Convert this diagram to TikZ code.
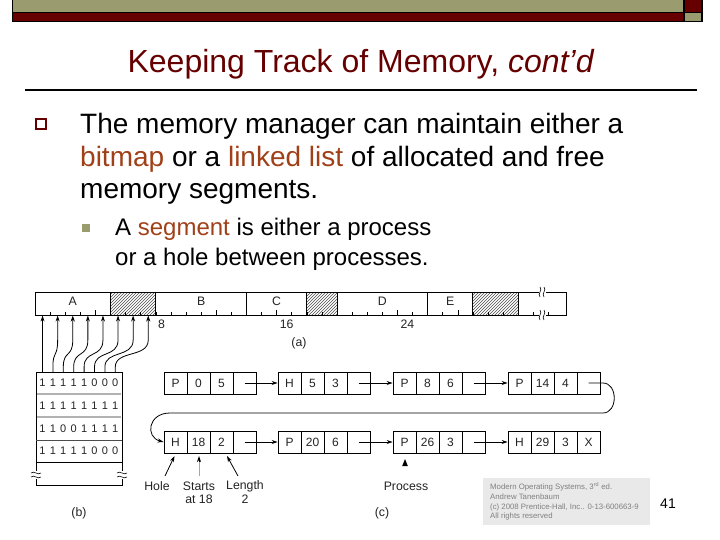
\documentclass[tikz,border=0pt]{standalone}
\usepackage{fontspec}
\setmainfont{Liberation Sans}
\usetikzlibrary{arrows.meta,patterns}
\definecolor{olivebar}{RGB}{155,155,112}
\definecolor{darkred}{RGB}{102,0,0}
\definecolor{hl}{RGB}{160,64,25}
\definecolor{figtext}{RGB}{35,35,35}
\newcommand\hlt[1]{\textcolor{hl}{#1}}
\tikzset{
  txt/.style={inner sep=0pt, anchor=base west},
  body/.style={txt, font=\fontsize{28}{32}\selectfont},
  sub/.style={txt, font=\fontsize{24}{28}\selectfont},
  figlbl/.style={inner sep=0pt, text=figtext, font=\fontsize{12.3}{13}\selectfont},
  bitdigit/.style={inner sep=0pt, text=figtext, font=\fontsize{11}{12}\selectfont},
  cell/.style={draw, line width=0.9pt, minimum width=23pt, minimum height=22pt, inner sep=0pt, text height=8.6pt, text depth=0pt, text=figtext, font=\fontsize{12}{12}\selectfont},
  arr/.style={line width=0.8pt, -{Stealth[length=6pt,width=4pt]}},
  wm/.style={txt, text=black!50, font=\fontsize{7.8}{8}\selectfont},
}
\begin{document}
\begin{tikzpicture}[x=1pt,y=-1pt]
\useasboundingbox (0,0) rectangle (720,540);
% header bars
\fill[black] (12,0) rectangle (703,22);
\fill[olivebar] (13,0) rectangle (683,12);
\fill[darkred] (13,13) rectangle (683,21);
\fill[darkred] (685,0) rectangle (701,12);
\fill[olivebar] (685,13) rectangle (701,21);
% title
\node[inner sep=0pt, anchor=base, text=darkred, font=\fontsize{32}{38}\selectfont] (title) at (361,73) {Keeping Track of Memory, \textit{cont’d}};
\draw[line width=1.5pt] (25,90) -- (697,90);
% bullets
\draw[darkred, line width=1.3pt] (36,119) rectangle (46,129);
\node[body] (l1) at (80,134) {The memory manager can maintain either a};
\node[body] (l2) at (80,166.5) {\hlt{bitmap} or a \hlt{linked list} of allocated and free};
\node[body] (l3) at (80,199) {memory segments.};
\fill[olivebar] (82,224) rectangle (90,232);
\node[sub] (s1) at (115,236) {A \hlt{segment} is either a process};
\node[sub] (s2) at (115,265) {or a hole between processes.};
% memory bar (a)
\foreach \a/\b in {5/8,18/20,29/32}
  \fill[pattern=north east lines, pattern color=black!70] ({35+\a*15.1},292) rectangle ({35+\b*15.1},315);
\draw[line width=1pt] (35,292) rectangle (566,315);
\foreach \u in {5,8,14,18,20,26,29,32}
  \draw[line width=0.9pt] ({35+\u*15.1},292) -- ({35+\u*15.1},315);
\foreach \u in {1,...,34}
  \draw[line width=0.5pt] ({35+\u*15.1},315) -- ({35+\u*15.1},312);
\foreach \u in {4,12,16,24,28}
  \draw[line width=0.5pt] ({35+\u*15.1},315) -- ({35+\u*15.1},310);
% break marks on bar
\foreach \yy in {292,315} {
  \fill[white] (539,{\yy-2}) rectangle (546,{\yy+2});
  \draw[line width=0.6pt] (540,{\yy-5}) .. controls (543,{\yy-2}) and (537,{\yy+2}) .. (540,{\yy+5});
  \draw[line width=0.6pt] (544,{\yy-5}) .. controls (547,{\yy-2}) and (541,{\yy+2}) .. (544,{\yy+5});
}
\node[figlbl] (lA) at ({35+2.5*15.1},301) {A};
\node[figlbl] (lB) at ({35+11*15.1},301) {B};
\node[figlbl] (lC) at ({35+16*15.1},301) {C};
\node[figlbl] (lD) at ({35+23*15.1},301) {D};
\node[figlbl] (lE) at ({35+27.5*15.1},301) {E};
\node[figlbl, anchor=west] (t8) at ({35+8*15.1+2},324) {8};
\node[figlbl, anchor=west] (t16) at ({35+16*15.1+3},324) {16};
\node[figlbl, anchor=west] (t24) at ({35+24*15.1+3},324) {24};
\node[figlbl] (capa) at (299,343) {(a)};
% bitmap (b)
\draw[line width=1pt] (36,372) rectangle (122,485);
\draw[gray!60, line width=1.5pt] (37,394) -- (121,394);
\draw[gray!60, line width=1.5pt] (37,417) -- (121,417);
\draw[black!70, line width=1pt] (36,440) -- (122,440);
\draw[line width=1pt] (36,462) -- (122,462);
\foreach \y/\bits [count=\r] in {383/{1,1,1,1,1,0,0,0}, 405.5/{1,1,1,1,1,1,1,1}, 428.5/{1,1,0,0,1,1,1,1}, 451/{1,1,1,1,1,0,0,0}} {
  \foreach \b [count=\i from 0] in \bits {
    \node[bitdigit] (bit-\r-\i) at ({42.5+\i*10.4},\y) {\b};
  }
}
\foreach \xx in {36,122} {
  \fill[white] ({\xx-2},471) rectangle ({\xx+2},479);
  \draw[line width=0.6pt] ({\xx-5},473) .. controls ({\xx-2},470) and ({\xx+2},476) .. ({\xx+5},473);
  \draw[line width=0.6pt] ({\xx-5},477) .. controls ({\xx-2},474) and ({\xx+2},480) .. ({\xx+5},477);
}
\node[figlbl] (capb) at (79,513) {(b)};
% arrows bitmap -> bar
\foreach \i in {0,...,7} {
  \coordinate (bs\i) at ({42.5+\i*10.4},372);
  \coordinate (be\i) at ({35+(\i+0.5)*15.1},315.5);
}
\draw[arr] (bs0) -- (be0);
\foreach \i in {1,...,7} {
  \draw[arr] (bs\i) -- ({42.5+\i*10.4},367) .. controls ({42.5+\i*10.4},350) and ({35+(\i+0.5)*15.1},358) .. ({35+(\i+0.5)*15.1},340) -- (be\i);
}
% linked list (c)
\foreach \nm/\x/\y/\a/\b/\c/\d in {a/164/383/P/0/5/{}, b/278/383/H/5/3/{}, c/393/383/P/8/6/{}, d/508/383/P/14/4/{}, e/164/442/H/18/2/{}, f/278/442/P/20/6/{}, g/393/442/P/26/3/{}, h/508/442/H/29/3/X} {
  \node[cell] (\nm1) at ({\x+11.5},\y) {\a};
  \node[cell] (\nm2) at ({\x+34.5},\y) {\b};
  \node[cell] (\nm3) at ({\x+57.5},\y) {\c};
  \node[cell] (\nm4) at ({\x+80.5},\y) {\d};
}
\draw[arr] (a4.center) -- (b1.west);
\draw[arr] (b4.center) -- (c1.west);
\draw[arr] (c4.center) -- (d1.west);
\draw[arr] (e4.center) -- (f1.west);
\draw[arr] (f4.center) -- (g1.west);
\draw[arr] (g4.center) -- (h1.west);
\draw[arr] (d4.center) -- (603,383) .. controls (618,383) and (618,413) .. (603,413) -- (170,413) .. controls (148,413) and (145,437) .. (e1.west);
% labels under list
\node[figlbl] (hole) at (157,486) {Hole};
\node[figlbl] (starts) at (199,486) {Starts};
\node[figlbl] (at18) at (199,499) {at 18};
\node[figlbl] (length) at (245,486) {Length};
\node[figlbl] (len2) at (245,499) {2};
\node[figlbl] (process) at (406,486) {Process};
\node[figlbl] (capc) at (382,513) {(c)};
\coordinate (holefoot) at (165,476);
\coordinate (startsfoot) at (199,476);
\coordinate (lengthfoot) at (238,476);
\draw[arr] (holefoot) -- (174.5,456);
\draw[line width=0.8pt, gray!70] (startsfoot) -- (199,460);
\draw[arr, draw=black] (199,462) -- (199,456);
\draw[arr] (lengthfoot) -- (227,456);
\fill (405,459) -- (402.2,466) -- (407.8,466) -- cycle;
% watermark
\fill[gray!17] (483,478) rectangle (650,525);
\node[wm] (w1) at (490,489) {Modern Operating Systems, 3\textsuperscript{rd} ed.};
\node[wm] (w2) at (490,499) {Andrew Tanenbaum};
\node[wm] (w3) at (490,509) {(c) 2008 Prentice-Hall, Inc.. 0-13-600663-9};
\node[wm] (w4) at (490,518.5) {All rights reserved};
\node[inner sep=0pt, font=\fontsize{14}{16}\selectfont] (pg) at (668,504) {41};
\end{tikzpicture}
\end{document}
